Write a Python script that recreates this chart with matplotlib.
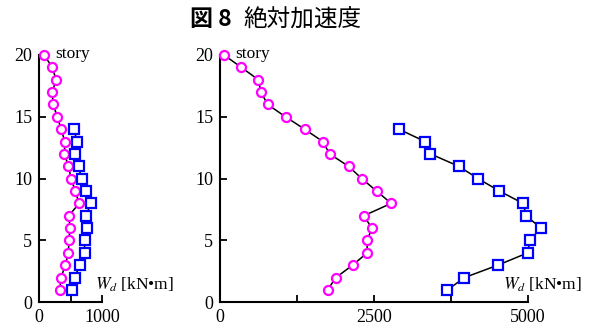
import numpy as np
import matplotlib.pyplot as plt

# ---- data ----
story = np.arange(1, 21)
story_b = np.arange(1, 15)

# left panel
left_circ = [330, 351, 415, 468, 473, 494, 473, 638, 574, 510,
             468, 404, 410, 351, 292, 223, 212, 271, 212, 80]
left_sq = [516, 564, 649, 723, 723, 766, 750, 819, 750, 675,
           628, 574, 606, 553]

# right panel
right_circ = [1746, 1881, 2152, 2389, 2389, 2465, 2335, 2779, 2541, 2303,
              2087, 1779, 1670, 1373, 1065, 773, 665, 622, 346, 65]
right_sq = [3693, 3968, 4509, 4995, 5028, 5206, 4974, 4919, 4536, 4190,
            3876, 3417, 3330, 2903]

left_xticks = [0, 500, 1000]
left_xlabels = ['0', '', '1000']
right_xticks = [0, 1250, 2500, 3750, 5000]
right_xlabels = ['0', '', '2500', '', '5000']
yticks = [0, 5, 10, 15, 20]

plt.rcParams['font.family'] = ['Liberation Serif', 'DejaVu Serif']
plt.rcParams['mathtext.fontset'] = 'stix'

fig = plt.figure(figsize=(5.97, 3.29), dpi=100)
ax1 = fig.add_axes([39/597, 26.7/329, 63/597, 247.3/329])
ax2 = fig.add_axes([220/597, 26.7/329, 308/597, 247.3/329])

circ_kw = dict(color='black', lw=1.1, marker='o', ms=6.5, mfc='white',
               mec='#ff00ff', mew=1.6, clip_on=False, zorder=3)
sq_kw = dict(color='black', lw=1.1, marker='s', ms=7.5, mfc='white',
             mec='#0000ff', mew=1.6, clip_on=False, zorder=3)


def style(ax, xmax, ticks, labels):
    ax.set_xlim(0, xmax)
    ax.set_ylim(0, 20)
    for s in ['top', 'right']:
        ax.spines[s].set_visible(False)
    for s in ['left', 'bottom']:
        ax.spines[s].set_linewidth(1.5)
    ax.set_xticks(ticks)
    ax.set_xticklabels(labels)
    ax.set_yticks(yticks)
    ax.tick_params(direction='in', length=5, width=1.3, labelsize=13, pad=5)
    ax.patch.set_visible(False)


ax1.plot(left_circ, story, **circ_kw)
ax1.plot(left_sq, story_b, **sq_kw)
style(ax1, 1000, left_xticks, left_xlabels)
ax1.text(250, 20.1, 'story', fontsize=12.5, ha='left', va='center')
ax1.text(2140, 1.4, r'$W_d$ [kN•m]', fontsize=12.5, ha='right', va='center',
         family=['Liberation Serif', 'DejaVu Sans'])

ax2.plot(right_circ, story, **circ_kw)
ax2.plot(right_sq, story_b, **sq_kw)
style(ax2, 5000, right_xticks, right_xlabels)
ax2.text(250, 20.1, 'story', fontsize=12.5, ha='left', va='center')
ax2.text(5880, 1.4, r'$W_d$ [kN•m]', fontsize=12.5, ha='right', va='center',
         family=['Liberation Serif', 'DejaVu Sans'])

fig.text(190/597, 1 - 20/329, '図 8', fontsize=16.5, fontweight='bold',
         family=['Noto Sans CJK JP'], ha='left', va='center')
fig.text(243/597, 1 - 20/329, '絶対加速度', fontsize=17,
         family=['Noto Sans CJK JP'], ha='left', va='center')

fig.savefig('out.png', dpi=100)
